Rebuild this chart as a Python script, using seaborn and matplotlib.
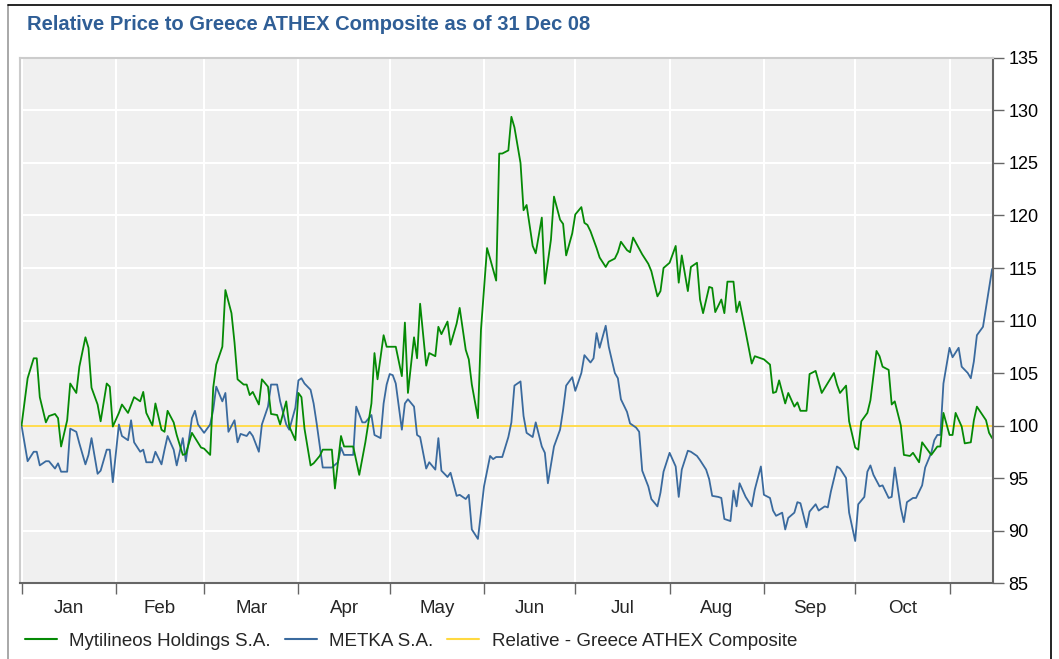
import matplotlib
matplotlib.use("Agg")
import matplotlib.pyplot as plt
from matplotlib.lines import Line2D
import seaborn as sns
import pandas as pd

# days counted from 1 Jan 2008, values relative to the index (=100)
mytil_day = [0, 2, 4, 5, 6, 8, 9, 11, 12, 13, 15, 16, 18, 19, 21, 22, 23, 25, 26, 28,
             29, 30, 32, 33, 35, 37, 39, 40, 41, 43, 44, 46, 47, 48, 50, 51, 53, 54, 55, 56,
             59, 60, 62, 63, 64, 66, 67, 69, 70, 71, 73, 74, 75, 76, 78, 79, 81, 82, 84, 85,
             87, 88, 90, 91, 92, 93, 95, 96, 98, 99, 102, 103, 105, 106, 109, 111, 113, 115, 116, 117,
             119, 120, 123, 125, 126, 127, 129, 130, 131, 133, 134, 136, 137, 138, 140, 141, 143, 144, 146, 147,
             148, 150, 151, 153, 154, 156, 157, 158, 160, 161, 162, 164, 165, 166, 168, 169, 171, 172, 174, 175,
             177, 178, 179, 181, 182, 184, 185, 186, 187, 189, 190, 192, 193, 195, 196, 197, 199, 200, 201, 204,
             206, 207, 209, 210, 211, 213, 215, 216, 217, 219, 220, 222, 223, 224, 226, 227, 228, 230, 231, 232,
             234, 235, 236, 238, 240, 241, 244, 246, 247, 248, 249, 251, 252, 254, 255, 256, 258, 259, 261, 263,
             267, 268, 269, 271, 272, 274, 275, 276, 278, 279, 281, 282, 283, 285, 286, 287, 289, 290, 292, 293,
             295, 296, 297, 299, 301, 302, 303, 305, 306, 307, 309, 310, 312, 313, 314, 317, 318, 319]
mytil_val = [100.0, 104.5, 106.4, 106.4, 102.7, 100.3, 100.9, 101.1, 100.7, 98.0, 100.5, 104.0, 103.1, 105.6, 108.4, 107.4, 103.6, 102.0, 100.4, 104.0,
             103.7, 99.9, 101.2, 102.0, 101.2, 102.7, 102.3, 103.2, 101.2, 100.0, 102.1, 99.6, 99.4, 101.4, 100.3, 99.1, 97.2, 97.3, 98.3, 99.3,
             97.9, 97.8, 97.2, 103.6, 105.8, 107.5, 112.9, 110.7, 107.9, 104.4, 103.9, 103.9, 102.9, 103.2, 102.0, 104.4, 103.7, 101.1, 101.0, 100.1,
             102.3, 99.9, 98.6, 103.1, 102.7, 99.7, 96.2, 96.4, 97.1, 97.7, 97.7, 94.0, 99.0, 98.0, 98.0, 95.3, 98.4, 102.1, 106.9, 104.4,
             108.6, 107.5, 107.5, 104.7, 109.8, 103.1, 108.4, 106.4, 111.6, 105.7, 106.9, 106.6, 109.4, 108.7, 109.9, 107.7, 109.7, 111.2, 107.2, 106.3,
             103.9, 100.7, 109.1, 116.9, 115.9, 113.8, 125.9, 125.9, 126.2, 129.4, 128.4, 125.0, 120.5, 121.0, 117.1, 116.4, 119.8, 113.5, 117.7, 121.8,
             119.6, 119.2, 116.2, 118.3, 120.1, 120.8, 119.3, 119.1, 118.5, 116.9, 116.0, 115.1, 115.6, 115.9, 116.5, 117.5, 116.7, 116.5, 117.9, 116.3,
             115.4, 114.7, 112.3, 112.8, 115.0, 115.5, 117.1, 113.6, 116.2, 112.8, 115.1, 115.5, 112.0, 110.7, 113.2, 113.1, 110.8, 112.0, 110.7, 113.7,
             113.7, 110.8, 111.8, 108.9, 105.9, 106.6, 106.3, 105.8, 103.1, 103.2, 104.3, 102.1, 103.1, 101.8, 102.2, 101.4, 101.4, 104.9, 105.2, 103.1,
             105.0, 103.9, 103.1, 103.8, 100.4, 97.9, 97.7, 100.4, 101.2, 102.4, 107.1, 106.6, 105.6, 105.3, 102.0, 102.3, 100.0, 97.2, 97.1, 97.4,
             96.5, 98.4, 98.0, 97.2, 98.0, 98.0, 101.2, 99.1, 99.1, 101.2, 99.9, 98.3, 98.4, 100.5, 101.8, 100.5, 99.3, 98.8]

metka_day = [0, 2, 4, 5, 6, 8, 9, 11, 12, 13, 15, 16, 18, 19, 21, 22, 23, 25, 26, 28,
             29, 30, 32, 33, 35, 36, 37, 39, 40, 41, 43, 44, 46, 47, 48, 50, 51, 53, 54, 56,
             57, 58, 60, 62, 63, 64, 66, 67, 68, 70, 71, 72, 74, 75, 76, 78, 79, 81, 82, 84,
             85, 87, 88, 90, 91, 92, 93, 95, 96, 97, 99, 100, 102, 104, 105, 106, 109, 110, 112, 113,
             115, 116, 118, 119, 120, 121, 122, 123, 125, 126, 127, 129, 130, 131, 133, 134, 136, 137, 138, 140,
             141, 143, 144, 146, 147, 148, 150, 151, 152, 154, 155, 156, 158, 160, 161, 162, 164, 165, 166, 168,
             169, 171, 172, 173, 175, 177, 178, 179, 181, 182, 184, 185, 187, 188, 189, 190, 192, 193, 195, 196,
             197, 199, 200, 202, 203, 204, 206, 207, 209, 210, 211, 213, 215, 216, 217, 219, 220, 222, 223, 225,
             226, 227, 229, 230, 231, 233, 234, 235, 236, 238, 240, 241, 243, 244, 246, 247, 248, 250, 251, 252,
             254, 255, 256, 258, 259, 261, 262, 264, 265, 266, 268, 269, 271, 272, 274, 275, 277, 278, 279, 280,
             282, 283, 285, 286, 287, 289, 290, 291, 293, 294, 296, 297, 299, 300, 301, 302, 303, 305, 306, 308,
             309, 311, 312, 313, 314, 316, 318, 319]
metka_val = [100.0, 96.6, 97.5, 97.5, 96.2, 96.6, 96.6, 95.9, 96.4, 95.6, 95.6, 99.7, 99.4, 98.3, 96.3, 97.2, 98.8, 95.4, 95.7, 97.7,
             97.7, 94.6, 100.1, 99.0, 98.6, 100.5, 98.4, 97.5, 97.7, 96.5, 96.5, 97.5, 96.3, 97.7, 99.0, 97.7, 96.2, 98.8, 96.6, 100.7,
             101.4, 100.1, 99.3, 100.1, 101.5, 103.7, 102.3, 103.1, 99.4, 100.5, 98.4, 99.2, 99.0, 99.4, 99.0, 97.5, 100.1, 101.8, 103.9, 103.9,
             102.3, 100.1, 99.6, 101.7, 104.3, 104.5, 104.0, 103.4, 102.1, 100.2, 96.0, 96.0, 96.0, 96.5, 97.9, 97.2, 97.2, 101.8, 100.3, 100.3,
             101.0, 99.1, 98.8, 102.1, 103.9, 104.9, 104.8, 104.0, 99.6, 102.1, 102.5, 101.8, 99.1, 98.9, 95.9, 96.5, 95.8, 98.8, 95.7, 95.1,
             95.5, 93.3, 93.4, 93.0, 93.4, 90.1, 89.2, 91.7, 94.2, 97.1, 96.8, 97.0, 97.0, 98.9, 100.3, 103.8, 104.2, 100.9, 99.3, 98.9,
             100.3, 98.0, 97.4, 94.5, 98.0, 99.6, 101.5, 103.8, 104.6, 103.3, 105.0, 106.7, 106.0, 106.4, 108.8, 107.4, 109.5, 107.5, 105.0, 104.5,
             102.5, 101.3, 100.2, 99.8, 99.4, 95.7, 94.2, 93.0, 92.3, 93.6, 95.6, 97.4, 96.1, 93.2, 95.8, 97.6, 97.5, 97.1, 96.7, 95.8,
             94.9, 93.3, 93.2, 93.1, 91.1, 90.9, 93.8, 92.3, 94.5, 93.2, 92.3, 93.9, 96.1, 93.4, 93.1, 91.9, 91.4, 91.7, 90.1, 91.2,
             91.7, 92.7, 92.6, 90.3, 91.8, 92.5, 91.9, 92.3, 92.2, 93.7, 96.1, 95.9, 95.0, 91.7, 89.0, 92.5, 93.2, 95.6, 96.2, 95.3,
             94.2, 94.3, 93.1, 93.2, 96.0, 92.1, 90.8, 92.7, 93.1, 93.1, 94.3, 96.0, 97.4, 98.6, 99.1, 99.1, 104.0, 107.4, 106.5, 107.4,
             105.6, 105.0, 104.5, 106.1, 108.6, 109.4, 113.1, 114.9]

rel_day = [0, 319]
rel_val = [100.0, 100.0]

month_names = ["Jan", "Feb", "Mar", "Apr", "May", "Jun", "Jul", "Aug", "Sep", "Oct"]
y_ticks = [85, 90, 95, 100, 105, 110, 115, 120, 125, 130, 135]

GREEN = "#058a05"
BLUE = "#3a6a9e"
YELLOW = "#ffd940"
TITLE_BLUE = "#2f5e96"

start = pd.Timestamp("2008-01-01")
mytil = pd.DataFrame({"date": start + pd.to_timedelta(mytil_day, unit="D"), "value": mytil_val})
metka = pd.DataFrame({"date": start + pd.to_timedelta(metka_day, unit="D"), "value": metka_val})
rel = pd.DataFrame({"date": start + pd.to_timedelta(rel_day, unit="D"), "value": rel_val})

sns.set_style("whitegrid", {"axes.facecolor": "#f0f0f0", "grid.color": "white"})
plt.rcParams["font.family"] = ["Liberation Sans", "DejaVu Sans"]

fig = plt.figure(figsize=(10.59, 6.59), dpi=100)
ax = fig.add_axes([0.0189, 0.1153, 0.9188, 0.7967])

sns.lineplot(data=rel, x="date", y="value", color=YELLOW, lw=1.3, ax=ax)
sns.lineplot(data=metka, x="date", y="value", color=BLUE, lw=1.3, ax=ax)
sns.lineplot(data=mytil, x="date", y="value", color=GREEN, lw=1.3, ax=ax)

ax.set_xlim(start - pd.Timedelta(hours=12), start + pd.Timedelta(days=319.3))
ax.set_ylim(85, 135)
ax.set_xlabel("")
ax.set_ylabel("")

# y axis on the right
ax.yaxis.tick_right()
ax.set_yticks(y_ticks)
ax.tick_params(axis="y", which="major", right=True, length=8, width=1, color="#666666",
               labelsize=13, pad=3, labelcolor="black")

# month boundaries as major ticks (no labels), names as minor ticks in the middle
month_starts = pd.date_range("2008-01-01", periods=11, freq="MS")
ax.set_xticks(month_starts)
ax.set_xticklabels([])
mids = [month_starts[i] + (month_starts[i + 1] - month_starts[i]) / 2 for i in range(10)]
ax.set_xticks(mids, minor=True)
ax.set_xticklabels(month_names, minor=True)
ax.tick_params(axis="x", which="major", bottom=True, length=8, width=1, color="#666666")
ax.tick_params(axis="x", which="minor", bottom=False, length=0, labelsize=13.5, pad=12)
ax.grid(True, which="major", color="white", lw=1.5)
ax.grid(False, which="minor")

for side in ["top", "left"]:
    ax.spines[side].set_color("#cccccc")
    ax.spines[side].set_linewidth(1.5)
for side in ["bottom", "right"]:
    ax.spines[side].set_color("#666666")
    ax.spines[side].set_linewidth(1.5)

fig.text(0.0255, 0.963, "Relative Price to Greece ATHEX Composite as of 31 Dec 08",
         fontsize=14.5, fontweight="bold", color=TITLE_BLUE, va="center", ha="left")

handles = [Line2D([], [], color=GREEN, lw=1.5),
           Line2D([], [], color=BLUE, lw=1.5),
           Line2D([], [], color=YELLOW, lw=1.5)]
labels = ["Mytilineos Holdings S.A.", "METKA S.A.", "Relative - Greece ATHEX Composite"]
fig.legend(handles, labels, loc="center left", bbox_to_anchor=(0.008, 0.027), ncol=3,
           frameon=False, fontsize=13.5, handlelength=1.7, handletextpad=0.65, columnspacing=0.75)

# outer frame
fig.add_artist(Line2D([0.0075, 0.0075], [0.0, 0.993], color="#999999", lw=1.2))
fig.add_artist(Line2D([0.0075, 0.992], [0.993, 0.993], color="black", lw=1.2))
fig.add_artist(Line2D([0.992, 0.992], [0.0, 0.993], color="black", lw=1.2))

fig.savefig("out.png", dpi=100)
